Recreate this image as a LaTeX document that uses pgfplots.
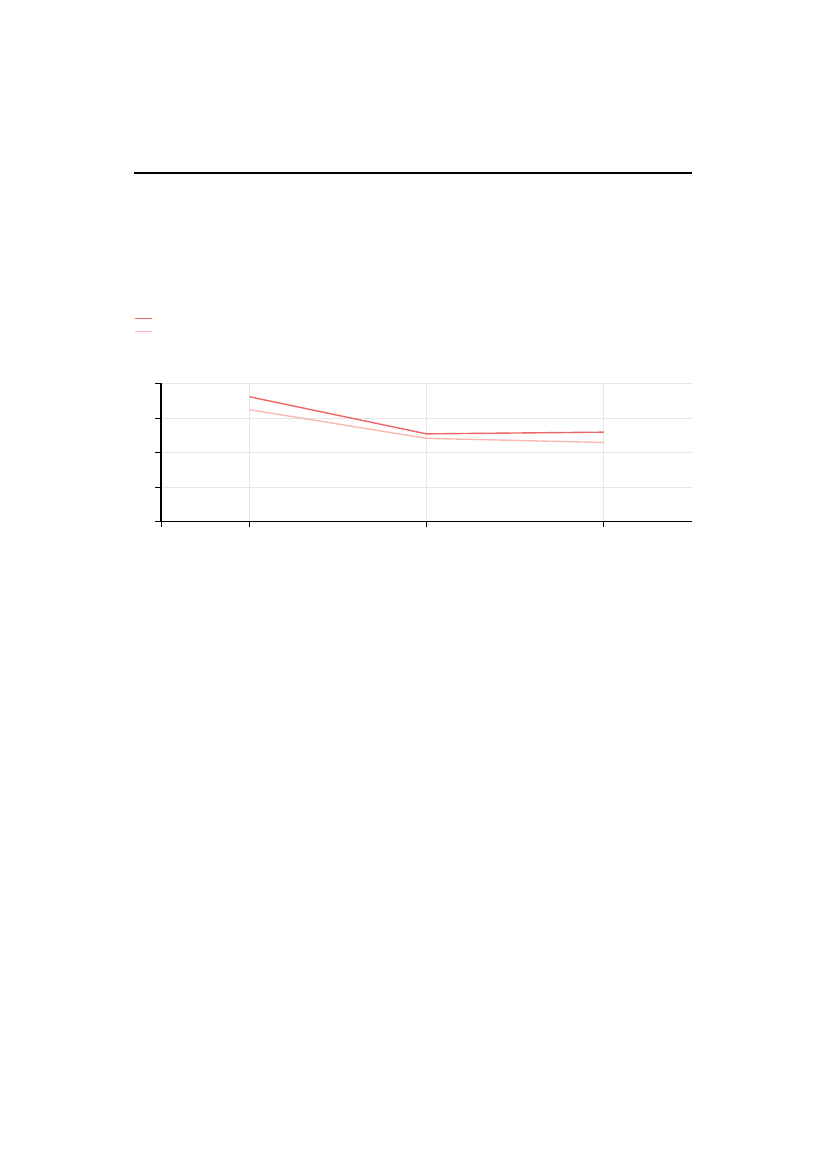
\documentclass[border=0pt]{standalone}
\usepackage{pgfplots}
\pgfplotsset{compat=1.18}
\definecolor{sA}{HTML}{EF6464}
\definecolor{sB}{HTML}{FAB9AD}
\definecolor{gridc}{HTML}{E6E6E6}
\begin{document}
\begin{tikzpicture}
\useasboundingbox (0,0) rectangle (595.3pt,841.9pt);
\draw[line width=1.4pt] (96.5pt,717.6pt) -- (498.4pt,717.6pt);
\begin{axis}[
  at={(115.9pt,466.3pt)}, anchor=south west,
  scale only axis, width=382.5pt, height=99.4pt,
  xmin=0.5, xmax=3.5, ymin=0, ymax=4,
  xtick={0.5,1,2,3}, ytick={0,1,2,3,4},
  xticklabels={}, yticklabels={},
  axis x line*=bottom, axis y line*=left,
  axis line style={line width=1.1pt, -},
  tick style={black, line width=0.6pt},
  tick align=outside, major tick length=4pt,
  grid=major, major grid style={gridc, line width=0.5pt},
  legend style={at={(axis description cs:-0.051,1.52)}, anchor=north west,
    draw=none, fill=none, inner sep=0pt, outer sep=0pt, row sep=0pt,
    nodes={inner sep=0pt, minimum height=9.4pt}},
  legend cell align=left,
  legend image code/.code={\draw[#1] (0pt,0pt) -- (12.5pt,0pt);},
]
\addplot[sA, line width=1pt, mark=none] coordinates {(1,3.615) (2,2.54) (3,2.59)};
\addlegendentry{}
\addplot[sB, line width=1pt, mark=none] coordinates {(1,3.24) (2,2.41) (3,2.29)};
\addlegendentry{}
\end{axis}
\end{tikzpicture}
\end{document}
